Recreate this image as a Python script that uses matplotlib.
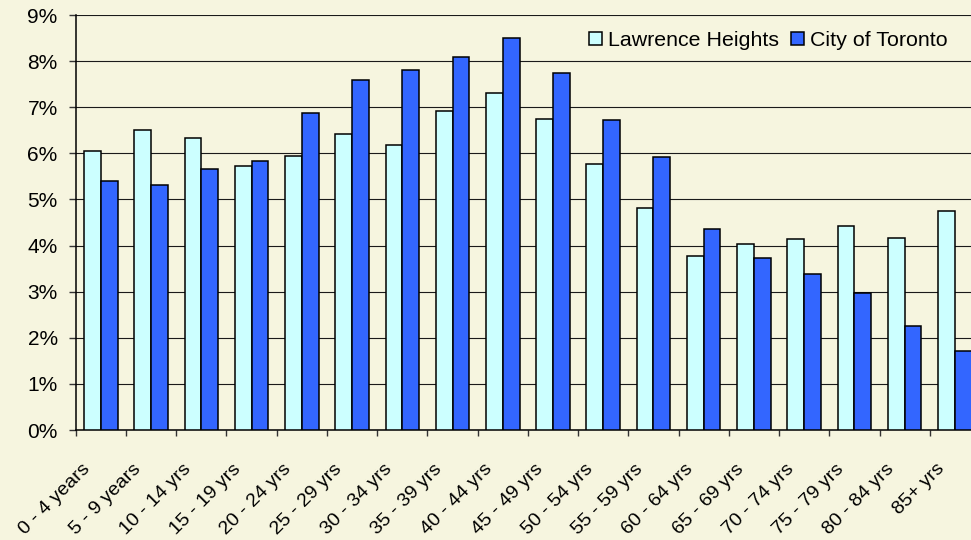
import numpy as np
import matplotlib.pyplot as plt
from matplotlib.ticker import FixedLocator
import matplotlib.transforms as mtransforms

# Excel-style colours
BG = '#F6F5DF'
LH_COLOR = '#CCFFFF'
TO_COLOR = '#3366FF'

plt.rcParams['font.family'] = ['Liberation Sans', 'DejaVu Sans']

age_groups = ['0 - 4 years', '5 - 9 years', '10 - 14 yrs', '15 - 19 yrs', '20 - 24 yrs',
              '25 - 29 yrs', '30 - 34 yrs', '35 - 39 yrs', '40 - 44 yrs', '45 - 49 yrs',
              '50 - 54 yrs', '55 - 59 yrs', '60 - 64 yrs', '65 - 69 yrs', '70 - 74 yrs',
              '75 - 79 yrs', '80 - 84 yrs', '85+ yrs']
lawrence_heights = [6.05, 6.51, 6.33, 5.73, 5.94, 6.41, 6.19, 6.91, 7.31, 6.74,
                    5.76, 4.82, 3.77, 4.03, 4.14, 4.43, 4.17, 4.75]
city_of_toronto = [5.40, 5.32, 5.65, 5.83, 6.87, 7.59, 7.81, 8.10, 8.50, 7.75,
                   6.73, 5.91, 4.35, 3.74, 3.38, 2.98, 2.26, 1.71]
y_ticks = [0, 1, 2, 3, 4, 5, 6, 7, 8, 9]
title = 'Study Area vs. City of Toronto'

fig = plt.figure(figsize=(9.71, 5.4), dpi=100, facecolor=BG)
# plot area runs slightly past the right edge of the picture, like the original
ax = fig.add_axes([0.078, 0.2037, 0.9313, 0.7685], facecolor=BG)

x = np.arange(len(age_groups))
w = 1 / 3
ax.bar(x - w / 2, lawrence_heights, width=w, color=LH_COLOR, edgecolor='black',
       linewidth=1.1, label='Lawrence Heights', zorder=3)
ax.bar(x + w / 2, city_of_toronto, width=w, color=TO_COLOR, edgecolor='black',
       linewidth=1.1, label='City of Toronto', zorder=3)

ax.set_xlim(-0.5, len(age_groups) - 0.5)
ax.set_ylim(0, 9)
ax.set_yticks(y_ticks)
ax.set_yticklabels([f'{v}%' for v in y_ticks], fontsize=15)
ax.yaxis.grid(True, color='#1a1a1a', linewidth=0.8, zorder=0)
ax.set_axisbelow(True)

# tick marks between categories, labels at the centres
ax.xaxis.set_minor_locator(FixedLocator(np.arange(-0.5, len(age_groups), 1.0)))
ax.set_xticks(x)
ax.set_xticklabels(age_groups, rotation=45, ha='right', va='top', fontsize=14)
ax.tick_params(axis='x', which='major', length=0, pad=22)
ax.tick_params(axis='x', which='minor', length=4.5, width=1, color='#333333')
ax.tick_params(axis='y', length=5, width=1, pad=8, color='#333333')
shift = mtransforms.ScaledTranslation(-0.07, 0, fig.dpi_scale_trans)
for lbl in ax.get_xticklabels():
    lbl.set_transform(lbl.get_transform() + shift)

for side in ['top', 'right']:
    ax.spines[side].set_visible(False)
ax.spines['left'].set_color('black')
ax.spines['bottom'].set_color('black')
ax.spines['left'].set_linewidth(1.1)
ax.spines['bottom'].set_linewidth(1.1)

leg = ax.legend(loc='upper right', bbox_to_anchor=(948 / 971, 1 - 31 / 540),
                bbox_transform=fig.transFigure, ncol=2, frameon=False, fontsize=15.4,
                handlelength=0.6, handleheight=0.6, handletextpad=0.3,
                columnspacing=0.55, borderpad=0, borderaxespad=0)

# title sits mostly above the picture, only its descenders show
fig.text(0.527, 1.007, title, ha='center', va='baseline', fontsize=14, fontweight='bold')

fig.savefig('out.png', dpi=100, facecolor=BG)
